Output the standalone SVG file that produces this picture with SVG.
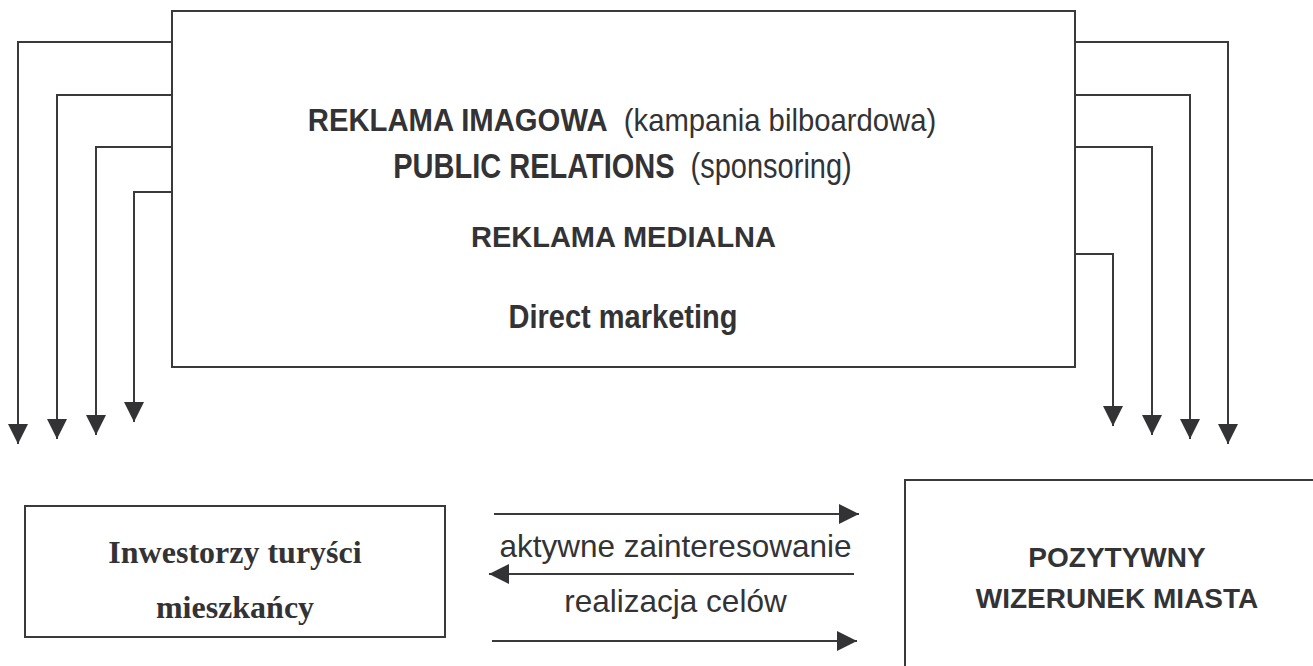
<svg xmlns="http://www.w3.org/2000/svg" width="1313" height="666" viewBox="0 0 1313 666">
<style>
.box{fill:#fff;stroke:#3a3a3c;stroke-width:2}
.ln{fill:none;stroke:#3a3a3c;stroke-width:2}
.sb{font-family:"Liberation Sans",Arial,sans-serif;font-weight:bold;font-size:29px;fill:#333335}
.sr{font-family:"Liberation Sans",Arial,sans-serif;font-weight:normal;font-size:29px;fill:#333335}
.lab{font-family:"Liberation Sans",Arial,sans-serif;font-size:31.5px;fill:#333335}
.tb{font-family:"Liberation Serif","Times New Roman",serif;font-weight:bold;font-size:32px;fill:#333335}
.pw{font-family:"Liberation Sans",Arial,sans-serif;font-weight:bold;font-size:28px;fill:#333335}
</style>
<defs>
<marker id="ah" markerUnits="userSpaceOnUse" markerWidth="20" markerHeight="20" refX="20" refY="10" orient="auto">
<path d="M0,0 L20,10 L0,20 z" fill="#333335"/>
</marker>
</defs>
<rect width="1313" height="666" fill="#fff"/>
<g id="connectors">
<path class="ln" d="M172,42 H18 V444" marker-end="url(#ah)"/>
<path class="ln" d="M172,95 H57 V439" marker-end="url(#ah)"/>
<path class="ln" d="M172,147 H96 V435" marker-end="url(#ah)"/>
<path class="ln" d="M172,192 H134 V422" marker-end="url(#ah)"/>
<path class="ln" d="M1075,42 H1228 V444" marker-end="url(#ah)"/>
<path class="ln" d="M1075,95 H1190 V439" marker-end="url(#ah)"/>
<path class="ln" d="M1075,147 H1152 V435" marker-end="url(#ah)"/>
<path class="ln" d="M1075,254 H1113 V426" marker-end="url(#ah)"/>
<path class="ln" d="M494,514 H859" marker-end="url(#ah)"/>
<path class="ln" d="M854,574 H489" marker-end="url(#ah)"/>
<path class="ln" d="M492,641 H857" marker-end="url(#ah)"/>
<text class="lab" x="675.5" y="557" text-anchor="middle">aktywne zainteresowanie</text>
<text class="lab" x="675.5" y="612" text-anchor="middle">realizacja celów</text>
</g>
<g id="promotion">
<rect class="box" x="172" y="11" width="903" height="356"/>
<text transform="translate(622,131) scale(1.01,1.1)" text-anchor="middle"><tspan class="sb">REKLAMA IMAGOWA</tspan><tspan class="sr" dx="8"> (kampania bilboardowa)</tspan></text>
<text transform="translate(622.5,178) scale(1,1.2)" text-anchor="middle"><tspan class="sb">PUBLIC RELATIONS</tspan><tspan class="sr" dx="8"> (sponsoring)</tspan></text>
<text class="sb" x="623.5" y="247" text-anchor="middle">REKLAMA MEDIALNA</text>
<text class="sb" transform="translate(623,328) scale(1,1.15)" text-anchor="middle">Direct marketing</text>
</g>
<g id="audience">
<rect class="box" x="25" y="506" width="420" height="131"/>
<text class="tb" x="235" y="563" text-anchor="middle">Inwestorzy turyści</text>
<text class="tb" x="235" y="618" text-anchor="middle">mieszkańcy</text>
</g>
<g id="image">
<rect class="box" x="905" y="480" width="420" height="200"/>
<text class="pw" x="1117" y="567" text-anchor="middle">POZYTYWNY</text>
<text class="pw" x="1117" y="608" text-anchor="middle">WIZERUNEK MIASTA</text>
</g>
</svg>
